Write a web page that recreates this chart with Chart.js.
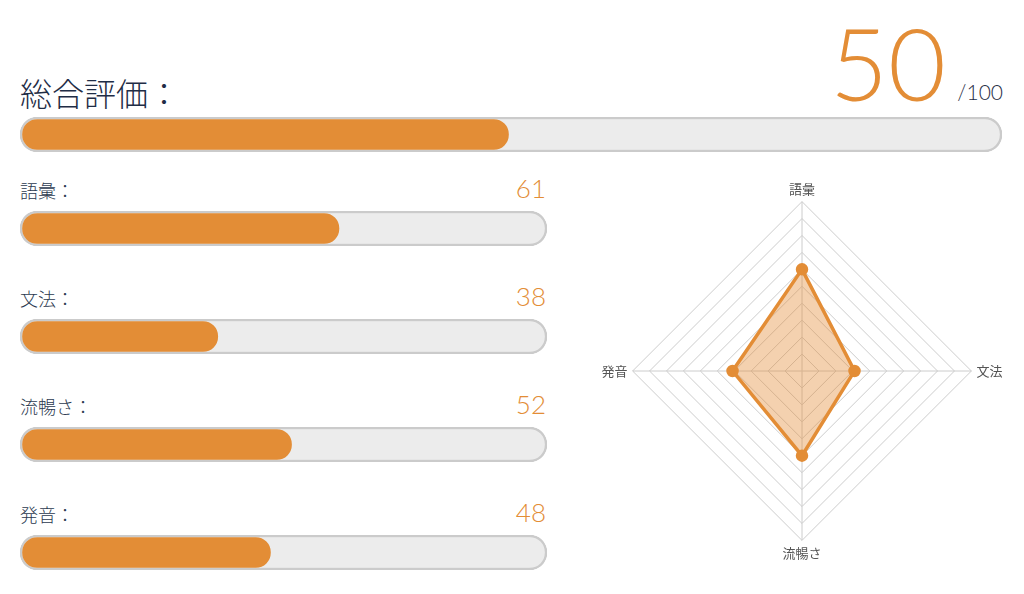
<!DOCTYPE html>
<html lang="ja">
<head>
    <meta charset="UTF-8">
    <title>総合評価</title>
    <script src="https://cdn.jsdelivr.net/npm/chart.js"></script>
    <style>
        body { margin: 0; width: 1024px; height: 594px; background: #fff; position: relative; overflow: hidden;
               font-family: "Noto Sans CJK JP", "Noto Sans", sans-serif; color: #1f2d46; }
        .abs { position: absolute; line-height: 1; white-space: nowrap; }
        .title { left: 20px; top: 76px; font-size: 32px; font-weight: 300; }
        .big { right: 78px; top: 12px; font-size: 100px; color: #e38d36; font-family: Lato, "Open Sans", sans-serif; font-weight: 300; }
        .of { right: 21px; top: 81px; font-size: 21px; font-family: Lato, "Open Sans", sans-serif; font-weight: 300; }
        .lbl { font-size: 18px; left: 20px; color: #2c3a50; font-weight: 300; }
        .num { font-size: 26px; color: #e38d36; font-family: Lato, "Open Sans", sans-serif; font-weight: 300; right: 478px; }
        .bar { position: absolute; left: 20px; width: 527px; height: 35px; }
        #totalBar { width: 982px; top: 117px; }
        #radarBox { position: absolute; left: 590px; top: 172px; width: 424px; height: 400px; }
    </style>
</head>
<body>
    <div class="abs title">総合評価：</div>
    <div class="abs big" id="totalNum"></div>
    <div class="abs of">/100</div>
    <div class="bar" id="totalBar"><canvas id="c_total"></canvas></div>
    <div id="items"></div>
    <div id="radarBox"><canvas id="radar"></canvas></div>

    <script>
        // dados
        const totalScore = 50;
        const maxScore = 100;
        const categories = ['語彙', '文法', '流暢さ', '発音'];
        const scores = [61, 38, 52, 48];
        const radarLabels = ['語彙', '文法', '流暢さ', '発音'];
        const radarValues = [60, 31, 50, 41];

        const laranja = '#e38d36';

        document.getElementById('totalNum').textContent = totalScore;

        // barra de progresso com Chart.js
        function progressBar(canvasId, value) {
            new Chart(document.getElementById(canvasId), {
                type: 'bar',
                data: {
                    labels: [''],
                    datasets: [
                        { data: [value], backgroundColor: laranja, borderColor: 'rgba(0,0,0,0)', borderWidth: 2.5,
                          borderRadius: 20, borderSkipped: false },
                        { data: [maxScore], backgroundColor: '#ececec', borderColor: '#cbcbcb', borderWidth: 2.5,
                          borderRadius: 20, borderSkipped: false }
                    ]
                },
                options: {
                    indexAxis: 'y',
                    responsive: true,
                    maintainAspectRatio: false,
                    animation: false,
                    events: [],
                    layout: { padding: 0 },
                    datasets: { bar: { grouped: false, barPercentage: 1, categoryPercentage: 1 } },
                    scales: {
                        x: { display: false, min: 0, max: maxScore },
                        y: { display: false }
                    },
                    plugins: { legend: { display: false }, tooltip: { enabled: false } }
                }
            });
        }

        progressBar('c_total', totalScore);

        // itens
        const items = document.getElementById('items');
        const tops = [211, 319, 427, 535];
        categories.forEach((cat, i) => {
            const t = tops[i];
            items.insertAdjacentHTML('beforeend',
                `<div class="abs lbl" style="top:${t - 30}px">${cat}：</div>` +
                `<div class="abs num" style="top:${t - 36}px">${scores[i]}</div>` +
                `<div class="bar" style="top:${t}px"><canvas id="c_${i}"></canvas></div>`);
        });
        categories.forEach((cat, i) => progressBar('c_' + i, scores[i]));

        // radar
        new Chart(document.getElementById('radar'), {
            type: 'radar',
            data: {
                labels: radarLabels,
                datasets: [{
                    data: radarValues,
                    backgroundColor: 'rgba(227,141,54,0.4)',
                    borderColor: laranja,
                    borderWidth: 3.5,
                    pointRadius: 4.5,
                    pointBackgroundColor: laranja,
                    pointBorderColor: laranja
                }]
            },
            options: {
                responsive: true,
                maintainAspectRatio: false,
                animation: false,
                layout: { padding: 10 },
                plugins: { legend: { display: false }, tooltip: { enabled: false } },
                scales: {
                    r: {
                        min: 0,
                        max: 100,
                        ticks: { display: false, stepSize: 10 },
                        grid: { color: '#cccccc' },
                        angleLines: { color: '#cccccc' },
                        pointLabels: { color: '#555', font: { size: 13, family: '"Noto Sans CJK JP"' } }
                    }
                }
            }
        });
    </script>
</body>
</html>
